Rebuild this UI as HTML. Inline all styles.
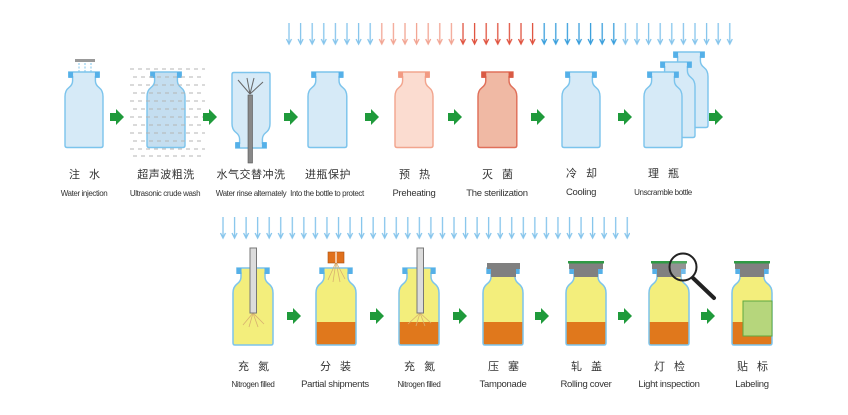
<!DOCTYPE html>
<html><head><meta charset="utf-8">
<style>
html,body{margin:0;padding:0;background:#fff;}
svg{display:block;}
text{font-family:"Liberation Sans","Noto Sans CJK SC",sans-serif;fill:#333;text-anchor:middle;}
.cn{font-size:11px;letter-spacing:3px;}
.cnl{font-size:11px;letter-spacing:0.5px;}
.en{font-size:9.5px;letter-spacing:-0.3px;}
.ens{font-size:8px;letter-spacing:-0.4px;}
</style></head><body>
<svg width="848" height="415" viewBox="0 0 848 415" xmlns="http://www.w3.org/2000/svg">
<defs>
<path id="b" d="M4,0 H36 V5 H32 V9 Q32,13 36,16 Q40,19 40,25 V75 Q40,77 38,77 H2 Q0,77 0,75 V25 Q0,19 4,16 Q8,13 8,9 V5 H4 Z"/>
<g id="lip"><rect x="3.5" y="0" width="5" height="6"/><rect x="31.5" y="0" width="5" height="6"/></g>
<clipPath id="bc"><use href="#b"/></clipPath>
<polygon id="g" points="0,4 6,4 6,0 14,8 6,16 6,12 0,12" fill="#1f9a3b"/>
<g id="da"><line x1="3" y1="0" x2="3" y2="20" stroke-width="1.3"/><polyline points="0.5,16 3,21 5.5,16" fill="none" stroke-width="1.3"/></g>
<pattern id="pLB" patternUnits="userSpaceOnUse" width="11.6" height="30" patternTransform="translate(286,23)"><use href="#da" stroke="#86c5ec"/></pattern>
<pattern id="pLR" patternUnits="userSpaceOnUse" width="11.6" height="30" patternTransform="translate(286,23)"><use href="#da" stroke="#f2a593"/></pattern>
<pattern id="pR" patternUnits="userSpaceOnUse" width="11.6" height="30" patternTransform="translate(286,23)"><use href="#da" stroke="#e0533f"/></pattern>
<pattern id="pB" patternUnits="userSpaceOnUse" width="11.6" height="30" patternTransform="translate(286,23)"><use href="#da" stroke="#3a9fdc"/></pattern>
<pattern id="pBot" patternUnits="userSpaceOnUse" width="11.55" height="30" patternTransform="translate(220,217)"><use href="#da" stroke="#86c5ec"/></pattern>
</defs>

<rect x="286" y="23" width="92" height="24" fill="url(#pLB)"/>
<rect x="378" y="23" width="81" height="24" fill="url(#pLR)"/>
<rect x="459" y="23" width="81" height="24" fill="url(#pR)"/>
<rect x="540" y="23" width="81" height="24" fill="url(#pB)"/>
<rect x="621" y="23" width="112" height="24" fill="url(#pLB)"/>
<rect x="220" y="217" width="410" height="24" fill="url(#pBot)"/>

<!-- TOP ROW -->
<g fill="#d6eaf7" stroke="#7cc4ec" stroke-width="1.5">
 <use href="#b" transform="translate(65,72) scale(0.95,0.98)"/>
 <use href="#b" transform="translate(147,72) scale(0.95,0.98)" fill="#c4def0"/>
 <use href="#b" transform="translate(308,72) scale(0.97,0.98)"/>
 <use href="#b" transform="translate(562,72) scale(0.95,0.98)"/>
 <use href="#b" transform="translate(670,52) scale(0.95,0.98)"/>
 <use href="#b" transform="translate(657,62) scale(0.95,0.98)"/>
 <use href="#b" transform="translate(644,72) scale(0.95,0.98)"/>
 <use href="#b" transform="translate(232,148) scale(0.95,-0.98)"/>
</g>
<use href="#b" transform="translate(395,72) scale(0.95,0.98)" fill="#fbdcd0" stroke="#f2a58e" stroke-width="1.5"/>
<use href="#b" transform="translate(478,72) scale(0.97,0.98)" fill="#f0b9a4" stroke="#e0705a" stroke-width="1.5"/>
<g fill="#55b0e8">
 <use href="#lip" transform="translate(65,72) scale(0.95,0.98)"/>
 <use href="#lip" transform="translate(147,72) scale(0.95,0.98)"/>
 <use href="#lip" transform="translate(308,72) scale(0.97,0.98)"/>
 <use href="#lip" transform="translate(562,72) scale(0.95,0.98)"/>
 <use href="#lip" transform="translate(670,52) scale(0.95,0.98)"/>
 <use href="#lip" transform="translate(657,62) scale(0.95,0.98)"/>
 <use href="#lip" transform="translate(644,72) scale(0.95,0.98)"/>
 <use href="#lip" transform="translate(232,148) scale(0.95,-0.98)"/>
</g>
<use href="#lip" transform="translate(395,72) scale(0.95,0.98)" fill="#f29a82"/>
<use href="#lip" transform="translate(478,72) scale(0.97,0.98)" fill="#d95a44"/>

<rect x="75" y="59" width="20" height="3" fill="#999"/>
<g stroke="#7cc4ec" stroke-width="1" stroke-dasharray="2,1.5"><line x1="79" y1="63" x2="79" y2="72"/><line x1="85" y1="63" x2="85" y2="72"/><line x1="91" y1="63" x2="91" y2="72"/></g>
<g stroke="#b5b5b5" stroke-width="1" stroke-dasharray="4,4">
<line x1="130" y1="69" x2="205" y2="69"/><line x1="133" y1="77" x2="205" y2="77"/><line x1="130" y1="85" x2="205" y2="85"/><line x1="133" y1="93" x2="205" y2="93"/><line x1="130" y1="101" x2="205" y2="101"/><line x1="133" y1="109" x2="205" y2="109"/><line x1="130" y1="117" x2="205" y2="117"/><line x1="133" y1="125" x2="205" y2="125"/><line x1="130" y1="133" x2="205" y2="133"/><line x1="133" y1="141" x2="205" y2="141"/><line x1="130" y1="149" x2="205" y2="149"/><line x1="133" y1="156" x2="205" y2="156"/>
</g>
<rect x="248" y="95" width="4.5" height="68" fill="#888" stroke="#555" stroke-width="0.6"/>
<g stroke="#666" stroke-width="1"><line x1="250" y1="94" x2="238" y2="80"/><line x1="250" y1="94" x2="247" y2="78"/><line x1="250" y1="94" x2="254" y2="78"/><line x1="250" y1="94" x2="263" y2="82"/></g>

<use href="#g" x="110" y="109"/><use href="#g" x="203" y="109"/><use href="#g" x="284" y="109"/><use href="#g" x="365" y="109"/><use href="#g" x="448" y="109"/><use href="#g" x="531" y="109"/><use href="#g" x="618" y="109"/><use href="#g" x="709" y="109"/>

<text class="cn" x="86" y="178">注 水</text><text class="ens" x="84" y="196">Water injection</text>
<text class="cnl" x="166" y="178">超声波粗洗</text><text class="ens" x="165" y="196">Ultrasonic crude wash</text>
<text class="cnl" x="251" y="178">水气交替冲洗</text><text class="ens" x="251" y="196">Water rinse alternately</text>
<text class="cnl" x="328" y="178">进瓶保护</text><text class="ens" x="327" y="196">Into the bottle to protect</text>
<text class="cn" x="416" y="178">预 热</text><text class="en" x="414" y="196">Preheating</text>
<text class="cn" x="499" y="178">灭 菌</text><text class="en" x="497" y="196">The sterilization</text>
<text class="cn" x="583" y="177">冷 却</text><text class="en" x="581" y="195">Cooling</text>
<text class="cn" x="665" y="177">理 瓶</text><text class="ens" x="663" y="195">Unscramble bottle</text>

<!-- BOTTOM ROW -->
<g>
 <g transform="translate(233,268)"><g clip-path="url(#bc)"><rect x="0" y="0" width="40" height="77" fill="#f3ee7c"/></g><use href="#b" fill="none" stroke="#7cc4ec" stroke-width="1.5"/><use href="#lip" fill="#55b0e8"/></g>
 <g transform="translate(316,268)"><g clip-path="url(#bc)"><rect x="0" y="0" width="40" height="77" fill="#f3ee7c"/><rect x="0" y="54" width="40" height="23" fill="#e0781c"/></g><use href="#b" fill="none" stroke="#7cc4ec" stroke-width="1.5"/><use href="#lip" fill="#55b0e8"/></g>
 <g transform="translate(399,268)"><g clip-path="url(#bc)"><rect x="0" y="0" width="40" height="77" fill="#f3ee7c"/><rect x="0" y="54" width="40" height="23" fill="#e0781c"/></g><use href="#b" fill="none" stroke="#7cc4ec" stroke-width="1.5"/><use href="#lip" fill="#55b0e8"/></g>
 <g transform="translate(483,268)"><g clip-path="url(#bc)"><rect x="0" y="0" width="40" height="77" fill="#f3ee7c"/><rect x="0" y="54" width="40" height="23" fill="#e0781c"/></g><use href="#b" fill="none" stroke="#7cc4ec" stroke-width="1.5"/><use href="#lip" fill="#55b0e8"/></g>
 <g transform="translate(566,268)"><g clip-path="url(#bc)"><rect x="0" y="0" width="40" height="77" fill="#f3ee7c"/><rect x="0" y="54" width="40" height="23" fill="#e0781c"/></g><use href="#b" fill="none" stroke="#7cc4ec" stroke-width="1.5"/><use href="#lip" fill="#55b0e8"/></g>
 <g transform="translate(649,268)"><g clip-path="url(#bc)"><rect x="0" y="0" width="40" height="77" fill="#f3ee7c"/><rect x="0" y="54" width="40" height="23" fill="#e0781c"/></g><use href="#b" fill="none" stroke="#7cc4ec" stroke-width="1.5"/><use href="#lip" fill="#55b0e8"/></g>
 <g transform="translate(732,268)"><g clip-path="url(#bc)"><rect x="0" y="0" width="40" height="77" fill="#f3ee7c"/><rect x="0" y="54" width="40" height="23" fill="#e0781c"/></g><use href="#b" fill="none" stroke="#7cc4ec" stroke-width="1.5"/><use href="#lip" fill="#55b0e8"/></g>
</g>
<g stroke="#d8b070" stroke-width="0.8">
<line x1="253" y1="313" x2="243" y2="325"/><line x1="253" y1="313" x2="249" y2="327"/><line x1="253" y1="313" x2="258" y2="327"/><line x1="253" y1="313" x2="264" y2="324"/>
<line x1="420" y1="313" x2="408" y2="324"/><line x1="420" y1="313" x2="416" y2="326"/><line x1="420" y1="313" x2="425" y2="326"/><line x1="420" y1="313" x2="431" y2="323"/>
<line x1="336" y1="262" x2="328" y2="280"/><line x1="336" y1="262" x2="333" y2="282"/><line x1="336" y1="262" x2="340" y2="282"/><line x1="336" y1="262" x2="345" y2="279"/>
</g>
<rect x="250" y="248" width="6.5" height="65" fill="#dcdcdc" stroke="#777" stroke-width="1"/>
<rect x="417" y="248" width="6.5" height="65" fill="#dcdcdc" stroke="#777" stroke-width="1"/>
<rect x="328" y="252" width="16" height="11" fill="#e0701c" stroke="#a85010" stroke-width="0.6"/>
<line x1="336" y1="252" x2="336" y2="263" stroke="#fff" stroke-width="1.2"/>
<g fill="#808080">
<rect x="487" y="263" width="33" height="6"/><rect x="491" y="268" width="25" height="9"/>
<rect x="569" y="263" width="34" height="6"/><rect x="574" y="268" width="24" height="9"/>
<rect x="652" y="263" width="34" height="6"/><rect x="657" y="268" width="24" height="9"/>
<rect x="735" y="263" width="34" height="6"/><rect x="740" y="268" width="24" height="9"/>
</g>
<g fill="#2e9a44"><rect x="568" y="261" width="36" height="2.5"/><rect x="651" y="261" width="36" height="2.5"/><rect x="734" y="261" width="36" height="2.5"/></g>
<line x1="693" y1="278" x2="714" y2="298" stroke="#222" stroke-width="4" stroke-linecap="round"/>
<circle cx="683" cy="267" r="13.5" fill="rgba(255,255,255,0.15)" stroke="#222" stroke-width="2"/>
<rect x="743" y="301" width="29" height="35" fill="#b6d67c" stroke="#5fa840" stroke-width="1"/>

<use href="#g" x="287" y="308"/><use href="#g" x="370" y="308"/><use href="#g" x="453" y="308"/><use href="#g" x="535" y="308"/><use href="#g" x="618" y="308"/><use href="#g" x="701" y="308"/>

<text class="cn" x="255" y="370">充 氮</text><text class="ens" x="253" y="387">Nitrogen filled</text>
<text class="cn" x="337" y="370">分 装</text><text class="en" x="335" y="387">Partial shipments</text>
<text class="cn" x="421" y="370">充 氮</text><text class="ens" x="419" y="387">Nitrogen filled</text>
<text class="cn" x="505" y="370">压 塞</text><text class="en" x="503" y="387">Tamponade</text>
<text class="cn" x="588" y="370">轧 盖</text><text class="en" x="586" y="387">Rolling cover</text>
<text class="cn" x="671" y="370">灯 检</text><text class="en" x="669" y="387">Light inspection</text>
<text class="cn" x="754" y="370">贴 标</text><text class="en" x="752" y="387">Labeling</text>
</svg>
</body></html>
